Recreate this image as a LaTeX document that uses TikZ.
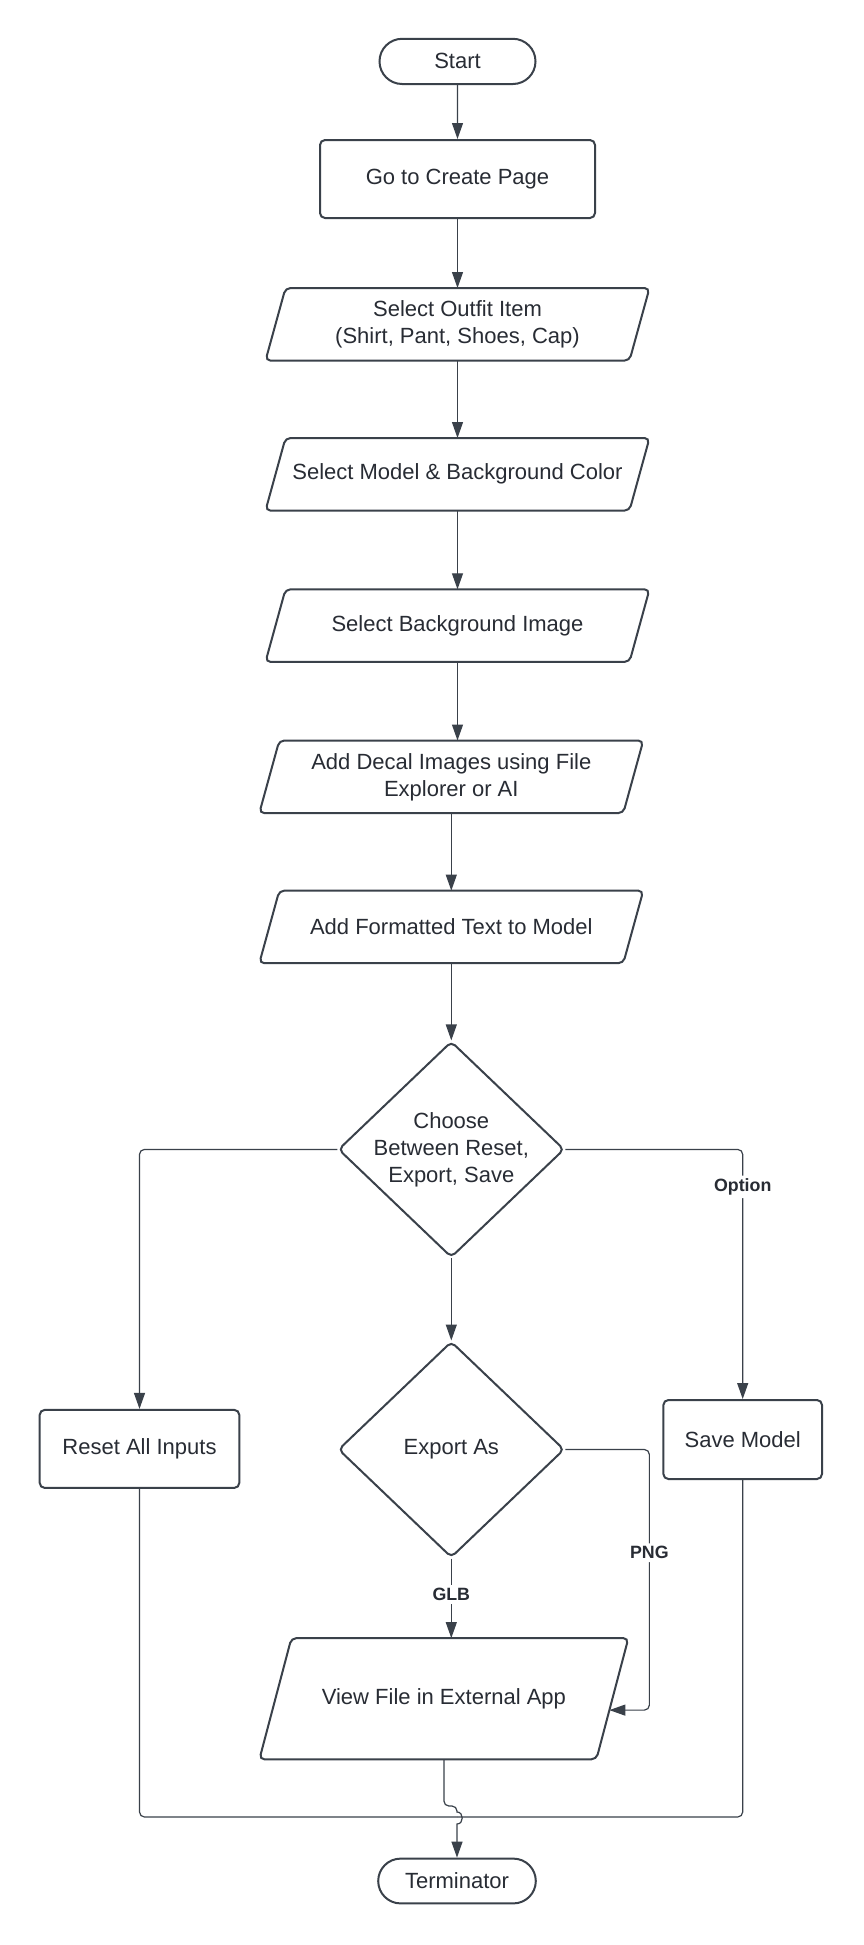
\documentclass[tikz,border=0pt]{standalone}
\usepackage{fontspec}
\setmainfont{Liberation Sans}
\usetikzlibrary{shapes.geometric,shapes.misc,arrows.meta,calc}
\definecolor{lc}{RGB}{58,65,74}
\definecolor{tc}{RGB}{40,44,52}
\newcommand\paraoutline[2]{\draw[outline] ([xshift=#2]#1.north west) -- (#1.north east) -- ([xshift=-#2]#1.south east) -- (#1.south west) -- cycle;}
\begin{document}
\begin{tikzpicture}[x=0.5pt,y=-0.5pt,
  base/.style={draw=lc, line width=1pt, text=tc, font=\fontsize{11}{13.5}\selectfont, align=center, inner sep=0pt},
  outline/.style={draw=lc, line width=1pt, rounded corners=2.5pt},
  term/.style={base, rounded rectangle, minimum width=78pt, minimum height=22.6pt},
  box/.style={base, rectangle, rounded corners=2.5pt},
  io/.style={base, draw=none, rectangle, minimum width=191pt, minimum height=35.3pt},
  dec/.style={base, diamond, rounded corners=2.5pt, minimum width=113pt, minimum height=108pt},
  txt/.style={text=tc, font=\fontsize{11}{13.5}\selectfont, align=center, inner sep=0pt},
  conn/.style={draw=lc, line width=0.6pt},
  arr/.style={conn, -{Triangle[length=8pt,width=5.5pt]}},
  lab/.style={fill=white, text=tc, font=\bfseries\fontsize{8.9}{10}\selectfont, inner sep=1.5pt}
]
\useasboundingbox[fill=white] (0,0) rectangle (863,1945);

\node[term] (S) at (457.5,61.4) {Start};
\node[box, minimum width=137.5pt, minimum height=39pt] (G) at (457.5,179) {Go to Create Page};
\node[io] (O) at (457.5,324.3) {Select Outfit Item\\(Shirt, Pant, Shoes, Cap)};
\node[io] (M) at (457.5,474.3) {Select Model \& Background Color};
\node[io] (B) at (457.5,625.6) {Select Background Image};
\node[io] (D) at (451.3,776.8) {Add Decal Images using File\\Explorer or AI};
\node[io] (F) at (451.3,926.9) {Add Formatted Text to Model};
\node[dec] (C) at (451.3,1149.4) {};
\node[txt] (Ct) at (C) {Choose\\Between Reset,\\Export, Save};
\node[box, minimum width=99.8pt, minimum height=39pt] (R) at (139.5,1448.9) {Reset All Inputs};
\node[dec] (E) at (451.3,1449.5) {};
\node[txt] (Et) at (E) {Export As};
\node[box, minimum width=79.3pt, minimum height=39.5pt] (SV) at (742.7,1439.5) {Save Model};
\node[io, minimum width=183.5pt, minimum height=59.6pt] (V) at (443.9,1698.7) {View File in External App};
\node[term, minimum width=78.8pt, minimum height=22.4pt] (T) at (457,1881) {Terminator};

\paraoutline{O}{10pt}
\paraoutline{M}{10pt}
\paraoutline{B}{10pt}
\paraoutline{D}{10pt}
\paraoutline{F}{10pt}
\paraoutline{V}{16pt}

\coordinate (vr) at ($(V.north east)!0.594!([xshift=-16pt]V.south east)$);
\coordinate (J) at ($(T.north)+(0,-40.6)$);

\draw[arr] (S) -- (G);
\draw[arr] (G) -- (O);
\draw[arr] (O) -- (M);
\draw[arr] (M) -- (B);
\draw[arr] (B.south) -- (B.south |- D.north);
\draw[arr] (D) -- (F);
\draw[arr] (F) -- (C);
\draw[arr, rounded corners=2.5pt] (C.west) -| (R.north);
\draw[arr, rounded corners=2.5pt] (C.east) -| node[lab, pos=0.575] (opt) {Option} (SV.north);
\draw[arr] (C) -- (E);
\draw[arr] (E.south) -- node[lab, pos=0.45] (glb) {GLB} (E.south |- V.north);
\draw[arr, rounded corners=2.5pt] (E.east) -| node[lab, pos=0.698] (png) {PNG} ([xshift=20pt]vr) -- (vr);
\draw[conn, rounded corners=2.5pt] (R.south) |- (J);
\draw[conn, rounded corners=2.5pt] (SV.south) |- (J);
\draw[arr] (V.south) [rounded corners=2.5pt] -- (443.9,1806) -- (457,1806) [sharp corners] -- (457,1812)
  .. controls (464,1812) and (464,1824) .. (457,1824) -- (T.north);
\end{tikzpicture}
\end{document}
